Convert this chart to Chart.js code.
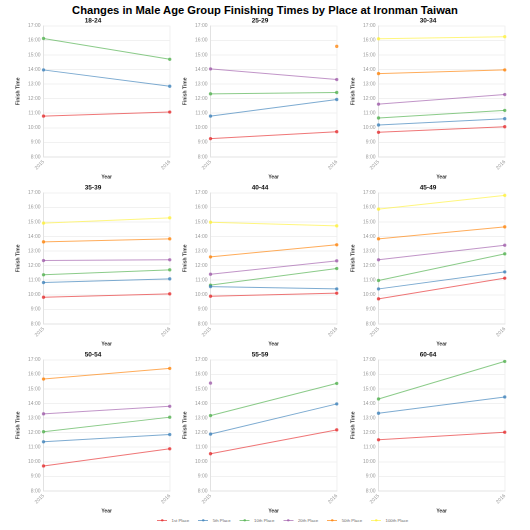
<!DOCTYPE html>
<html><head><meta charset="utf-8">
<script src="https://cdn.jsdelivr.net/npm/chart.js@4.4.0/dist/chart.umd.min.js"></script>
<style>
html,body{margin:0;padding:0;background:#fff;width:530px;height:530px;overflow:hidden;font-family:"Liberation Sans",Arial,sans-serif;}
#title{position:absolute;left:0;top:3px;width:530px;text-align:center;font-weight:bold;font-size:11.2px;line-height:14px;color:#000;}
canvas.p{position:absolute;}
#legend{position:absolute;left:157px;top:515px;transform:scale(0.5);transform-origin:0 0;white-space:nowrap;font-size:8.6px;line-height:20px;color:#666;}
#legend span.it{display:inline-block;margin-right:18px;vertical-align:middle;}
#legend span.ln{display:inline-block;width:20px;height:2px;vertical-align:middle;position:relative;margin-right:9px;}
#legend span.dt{position:absolute;left:7.5px;top:-2px;width:5px;height:5px;border-radius:3px;}
</style></head>
<body>
<div id="title">Changes in Male Age Group Finishing Times by Place at Ironman Taiwan</div>
<div id="legend"></div>
<script>
const years = ['2015', '2016'];
const ageGroups = ['18-24','25-29','30-34','35-39','40-44','45-49','50-54','55-59','60-64'];
const placeNames = ['1st Place','5th Place','10th Place','20th Place','50th Place','100th Place'];
const placeColors = ['rgba(228,26,28,0.6)','rgba(55,126,184,0.65)','rgba(77,175,74,0.65)','rgba(152,78,163,0.6)','rgba(255,127,0,0.65)','rgba(255,240,40,0.6)'];
const yTicks = [8,9,10,11,12,13,14,15,16,17];
// finish times in hours, [2015, 2016] per age group
const place1st   = [[10.80,11.08],[9.25,9.73],[9.69,10.07],[9.83,10.06],[9.90,10.11],[9.72,11.14],[9.71,10.89],[10.55,12.19],[11.51,12.03]];
const place5th   = [[13.97,12.85],[10.80,11.94],[10.19,10.62],[10.84,11.09],[10.56,10.40],[10.40,11.57],[11.37,11.87],[11.90,13.97],[13.33,14.45]];
const place10th  = [[16.13,14.70],[12.33,12.42],[10.67,11.19],[11.37,11.71],[10.66,11.80],[10.98,12.81],[12.06,13.06],[13.17,15.38],[14.31,16.89]];
const place20th  = [[null,null],[14.04,13.31],[11.62,12.28],[12.35,12.40],[11.41,12.33],[12.40,13.40],[13.29,13.81],[15.40,null],[null,null]];
const place50th  = [[null,null],[null,15.59],[13.72,13.97],[13.63,13.84],[12.60,13.43],[13.84,14.66],[15.68,16.41],[null,null],[null,null]];
const place100th = [[null,null],[null,null],[16.11,16.25],[14.92,15.28],[14.98,14.73],[15.88,16.82],[null,null],[null,null],[null,null]];
const places = [place1st, place5th, place10th, place20th, place50th, place100th];

const colLeft = [0, 167, 335];
const rowTop = [16, 183, 350];
const W = 176, H = 164;
const FF = '"Liberation Sans", Arial, sans-serif';
const tickFont = {family:FF, size:5};
const axisTitleFont = {family:FF, size:5, weight:'bold'};

ageGroups.forEach((g, i) => {
  const c = document.createElement('canvas');
  c.className = 'p';
  c.style.left = colLeft[i % 3] + 'px';
  c.style.top = rowTop[Math.floor(i / 3)] + 'px';
  c.style.width = W + 'px'; c.style.height = H + 'px';
  c.width = W; c.height = H;
  document.body.appendChild(c);
  const datasets = [];
  places.forEach((arr, k) => {
    const d = arr[i];
    if (d[0] === null && d[1] === null) return;
    datasets.push({
      label: placeNames[k], data: d,
      borderColor: placeColors[k], backgroundColor: placeColors[k],
      borderWidth: 1, pointRadius: 1.2, pointHoverRadius: 1.5, spanGaps: false
    });
  });
  new Chart(c, {
    type: 'line',
    data: { labels: years, datasets },
    options: {
      responsive: false, animation: false, devicePixelRatio: 2,
      layout: { padding: { left: 15, right: 5, top: 0, bottom: 0 } },
      plugins: {
        legend: { display: false },
        tooltip: { enabled: false },
        title: { display: true, text: g, color: '#111', font: {family:FF, size:6.5, weight:'bold'}, padding: { top: 1, bottom: 1 } }
      },
      scales: {
        x: {
          offset: false,
          grid: { color: '#ececec', drawTicks: false, lineWidth: 0.8 },
          border: { color: '#e2e2e2' },
          ticks: { color: '#999', font: tickFont, minRotation: 45, maxRotation: 45, padding: 2 },
          title: { display: true, text: 'Year', color: '#333', font: axisTitleFont, padding: { top: 1, bottom: 0 } }
        },
        y: {
          min: 8, max: 17,
          afterBuildTicks: (ax) => { ax.ticks = yTicks.map(v => ({ value: v })); },
          grid: { color: '#ececec', drawTicks: false, lineWidth: 0.8 },
          border: { color: '#e2e2e2' },
          ticks: { color: '#999', font: tickFont, padding: 3, callback: (v) => v + ':00' },
          title: { display: true, text: 'Finish Time', color: '#333', font: axisTitleFont, padding: { top: 0, bottom: 4 } }
        }
      }
    }
  });
});

const lg = document.getElementById('legend');
placeNames.forEach((n, k) => {
  const it = document.createElement('span');
  it.className = 'it';
  it.innerHTML = '<span class="ln" style="background:' + placeColors[k] + '"><span class="dt" style="background:' + placeColors[k] + '"></span></span>' + n;
  lg.appendChild(it);
});
</script>
</body></html>
